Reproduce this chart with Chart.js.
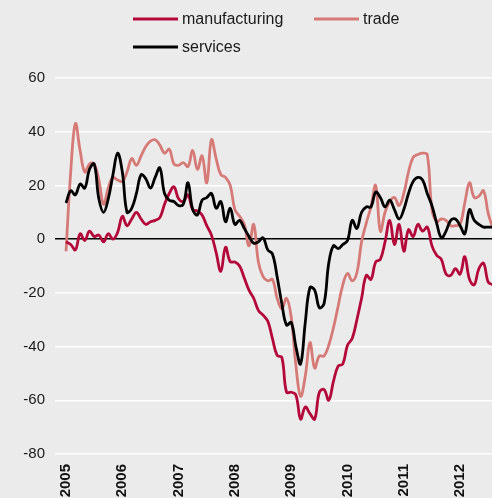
<!DOCTYPE html>
<html>
<head>
<meta charset="utf-8">
<script src="https://cdn.jsdelivr.net/npm/chart.js@4"></script>
<style>
  body { margin: 0; background: #ebebeb; }
  #wrap { position: relative; width: 492px; height: 498px; }
</style>
</head>
<body>
<div id="wrap"><canvas id="myLineChart"></canvas></div>
<script>
// monthly values, Jan 2005 onwards
var years = ["2005", "2006", "2007", "2008", "2009", "2010", "2011", "2012"];
var yTicks = [-80, -60, -40, -20, 0, 20, 40, 60];

var manufacturing = [
  -1, -2, -4, 2, -0.5, 3, 1, 1.5, -1, 2, 0, 2.5,
  8.5, 5, 7.5, 10, 7.5, 5.5, 6.5, 7, 8, 13, 17, 19.5,
  15, 14, 16.5, 11, 10.5, 9, 5, 1.5, -5, -12, -3, -8.4,
  -8.5, -10, -14.5, -19, -22, -26.5, -28.3, -30.5, -37, -43.3, -44, -57,
  -57, -58, -67, -62.5, -65, -67, -57, -56, -60, -53, -47.3, -46.5,
  -39.5, -37, -30, -22, -13.5, -15, -8.5, -7.5, -1, 7, -2, 5.5,
  -4.5, 3.5, 1, 5.5, 3, 4.5, -2.5, -6, -7.5, -13, -13.5, -11,
  -13, -6.5, -15, -17, -11, -9, -16, -17
];
var trade = [
  -4.5, 25, 43, 33, 25, 28, 28, 22, 13, 19, 23, 22,
  21.5, 25, 30, 27.5, 31, 34.5, 36.5, 37, 35, 32, 33.5, 28,
  27.5, 28.5, 27, 33, 26, 31, 21, 37, 30, 24, 23, 20,
  11, 8.5, 5.5, -2.5, 5.5, -8.5, -14, -15.5, -15, -22, -26, -22,
  -29, -47, -58.5, -51, -38.5, -48, -43.5, -43.5, -39.5, -33, -25, -17,
  -12.8, -15.5, -12.5, -1, 6, 12, 20, 3, 10, 14, 15.5, 12.5,
  17, 25, 30.5, 31.5, 32, 31.5, 11, 6.5, 7.5, 7, 5, 5,
  5.5, 13.5, 21, 15.5, 16, 18, 9.5, 4
];
var services = [
  13.5, 18, 16.5, 20.5, 19, 26, 28, 15, 10, 15, 24, 32,
  25, 10, 11.5, 17, 24, 22.5, 19, 23, 26.5, 17, 14.5, 14,
  12.5, 13, 21, 11, 9, 14.5, 15.5, 17, 11.5, 14, 6.5, 11.5,
  5.5, 7, 4, 1, -1.5, -1, 0.5, -4, -5.5, -14, -24, -32,
  -31, -40, -46.5, -31, -18, -19, -25.5, -24, -9, -2.5, -3.5, -2,
  -0.5, 7, 4, 10, 12, 12, 17.5, 15.5, 12, 14.5, 11, 7.5,
  11, 17, 21.5, 23, 22, 17, 12.5, 6, 0.5, 3, 7, 7.5,
  5, 2, 11, 7, 5.5, 4.5, 4.5, 4.5
];

function toPoints(values) {
  return values.map(function (v, i) {
    return { x: i, y: v };
  });
}

// legend laid out in two rows like the original
var legendRows = {
  id: "legendRows",
  afterDraw: function (chart) {
    var ctx = chart.ctx;
    var spots = [
      { x: 133, y: 19 },
      { x: 314, y: 19 },
      { x: 133, y: 47 },
    ];
    ctx.save();
    ctx.font = "16px 'Liberation Sans', Arial, sans-serif";
    ctx.textBaseline = "middle";
    ctx.fillStyle = "#1a1a1a";
    chart.data.datasets.forEach(function (ds, i) {
      var s = spots[i];
      ctx.strokeStyle = ds.borderColor;
      ctx.lineWidth = 3;
      ctx.beginPath();
      ctx.moveTo(s.x, s.y);
      ctx.lineTo(s.x + 45, s.y);
      ctx.stroke();
      ctx.fillText(ds.label, s.x + 49, s.y + 1);
    });
    ctx.restore();
  },
};

var ctx = document.getElementById("myLineChart").getContext("2d");

var myLineChart = new Chart(ctx, {
  type: "line",
  data: {
    datasets: [
      {
        label: "manufacturing",
        data: toPoints(manufacturing),
        borderColor: "#b5083a",
        borderWidth: 2.8,
        order: 1,
      },
      {
        label: "trade",
        data: toPoints(trade),
        borderColor: "#d67a78",
        borderWidth: 2.8,
        order: 2,
      },
      {
        label: "services",
        data: toPoints(services),
        borderColor: "#000000",
        borderWidth: 2.8,
        order: 0,
      },
    ],
  },
  options: {
    responsive: true,
    maintainAspectRatio: false,
    animation: false,
    layout: {
      padding: { top: 78, right: 0, bottom: 0, left: 0 },
    },
    elements: {
      point: { radius: 0 },
      line: { tension: 0.4, fill: false },
    },
    plugins: {
      legend: { display: false },
      tooltip: { enabled: false },
    },
    scales: {
      x: {
        type: "linear",
        min: -2.35,
        max: 90.8,
        grid: { display: false },
        border: { display: false },
        afterBuildTicks: function (scale) {
          scale.ticks = years.map(function (y, i) {
            return { value: i * 12 };
          });
        },
        afterFit: function (scale) {
          scale.height = 44;
        },
        ticks: {
          autoSkip: false,
          minRotation: 90,
          maxRotation: 90,
          padding: 2,
          color: "#111",
          font: {
            family: "'Liberation Sans', Arial, sans-serif",
            size: 15,
            weight: "bold",
          },
          callback: function (value) {
            return years[Math.round(value / 12)];
          },
        },
      },
      y: {
        min: -80,
        max: 60,
        grid: {
          drawTicks: false,
          lineWidth: 1.5,
          color: function (c) {
            return c.tick && c.tick.value === 0 ? "#000000" : "#ffffff";
          },
        },
        border: { display: false },
        afterBuildTicks: function (scale) {
          scale.ticks = yTicks.map(function (v) {
            return { value: v };
          });
        },
        afterFit: function (scale) {
          scale.width = 55;
        },
        ticks: {
          padding: 10,
          color: "#1a1a1a",
          font: { family: "'Liberation Sans', Arial, sans-serif", size: 15 },
        },
      },
    },
  },
  plugins: [legendRows],
});
</script>
</body>
</html>
